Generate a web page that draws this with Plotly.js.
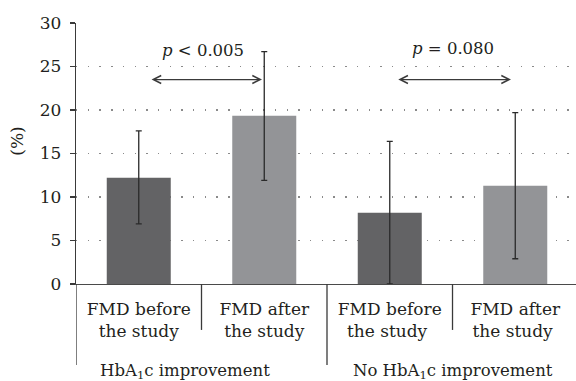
<!DOCTYPE html>
<html>
<head>
<meta charset="utf-8">
<script src="https://cdn.plot.ly/plotly-3.0.1.min.js"></script>
<style>html,body{margin:0;padding:0;background:#fff;}#chart{width:576px;height:381px;}</style>
</head>
<body>
<div id="chart"></div>
<script>
// Data
var categories = ["FMD before<br>the study", "FMD after<br>the study", "FMD before<br>the study ", "FMD after<br>the study "];
var fmdValues = [12.2, 19.35, 8.2, 11.3];
var errPlus = [5.4, 7.35, 8.2, 8.4];
var errMinus = [5.3, 7.45, 8.2, 8.4];
var barColors = ["#636365", "#939497", "#636365", "#939497"];
var groupLabels = ["HbA<sub>1</sub>c improvement", "No HbA<sub>1</sub>c improvement"];
var pLabels = ["<i>p</i> &lt; 0.005", "<i>p</i> = 0.080"];
var yTicks = [0, 5, 10, 15, 20, 25, 30];

var textColor = "#231f20";
var serif = "DejaVu Serif";
var xIdx = [0, 1, 2, 3];

var trace = {
  type: "bar",
  x: xIdx,
  y: fmdValues,
  width: 0.51,
  marker: {color: barColors},
  error_y: {type: "data", symmetric: false, array: errPlus, arrayminus: errMinus,
            color: "#2a2a2a", thickness: 1.3, width: 3},
  hoverinfo: "none"
};

var annotations = [
  {xref: "paper", yref: "paper", x: -0.118, y: 0.545, xanchor: "center", yanchor: "middle",
   text: "(%)", textangle: -90, showarrow: false, font: {family: serif, size: 17, color: textColor}},
  {xref: "x", yref: "paper", x: 0.365, y: -0.286, xanchor: "center", yanchor: "top",
   text: groupLabels[0], showarrow: false, font: {family: serif, size: 16.5, color: textColor}},
  {xref: "x", yref: "paper", x: 2.5, y: -0.286, xanchor: "center", yanchor: "top",
   text: groupLabels[1], showarrow: false, font: {family: serif, size: 16.5, color: textColor}},
  {xref: "x", yref: "y", x: 0.512, y: 26.8, text: pLabels[0], showarrow: false,
   font: {family: serif, size: 16.5, color: textColor}},
  {xref: "x", yref: "y", x: 2.504, y: 27.1, text: pLabels[1], showarrow: false,
   font: {family: serif, size: 16.5, color: textColor}},
  {xref: "x", yref: "y", axref: "x", ayref: "y", x: 0.982, y: 23.5, ax: 0.074, ay: 23.5,
   text: " ", showarrow: true, arrowhead: 5, startarrowhead: 5, arrowside: "end+start",
   arrowsize: 1.3, startarrowsize: 1.3, arrowwidth: 1.2, arrowcolor: "#3a3a3a", standoff: 0, startstandoff: 0},
  {xref: "x", yref: "y", axref: "x", ayref: "y", x: 2.966, y: 23.5, ax: 2.04, ay: 23.5,
   text: " ", showarrow: true, arrowhead: 5, startarrowhead: 5, arrowside: "end+start",
   arrowsize: 1.3, startarrowsize: 1.3, arrowwidth: 1.2, arrowcolor: "#3a3a3a", standoff: 0, startstandoff: 0}
];

var sepLine = {color: "#3a3a3a", width: 1.3};
var shapes = [
  {type: "line", xref: "x", yref: "paper", x0: -0.5, x1: -0.5, y0: 0, y1: -0.31, line: sepLine},
  {type: "line", xref: "x", yref: "paper", x0: 0.5, x1: 0.5, y0: 0, y1: -0.176, line: sepLine},
  {type: "line", xref: "x", yref: "paper", x0: 1.5, x1: 1.5, y0: 0, y1: -0.31, line: sepLine},
  {type: "line", xref: "x", yref: "paper", x0: 2.5, x1: 2.5, y0: 0, y1: -0.176, line: sepLine}
];

var layout = {
  width: 576, height: 381,
  margin: {l: 76, r: 0, t: 23, b: 97},
  paper_bgcolor: "#ffffff", plot_bgcolor: "#ffffff",
  showlegend: false,
  font: {family: serif, color: textColor},
  xaxis: {
    range: [-0.5, 3.484], tickmode: "array", tickvals: xIdx, ticktext: categories,
    showgrid: false, zeroline: false, showline: true, linecolor: "#4a4a4a", linewidth: 1.3,
    ticks: "", ticklabelstandoff: 9, tickfont: {family: serif, size: 17, color: textColor}, fixedrange: true
  },
  yaxis: {
    range: [0, 30], tickmode: "array", tickvals: yTicks,
    showgrid: true, gridcolor: "#8a8a8a", gridwidth: 1.4, griddash: "1.4px,10.3px",
    zeroline: false, showline: true, linecolor: "#3a3a3a", linewidth: 1.3,
    ticks: "outside", ticklen: 5, tickwidth: 1.3, tickcolor: "#3a3a3a", ticklabelstandoff: 5,
    tickfont: {family: serif, size: 17, color: textColor}, fixedrange: true
  },
  annotations: annotations,
  shapes: shapes
};

Plotly.newPlot("chart", [trace], layout, {staticPlot: true, displayModeBar: false});
</script>
</body>
</html>
